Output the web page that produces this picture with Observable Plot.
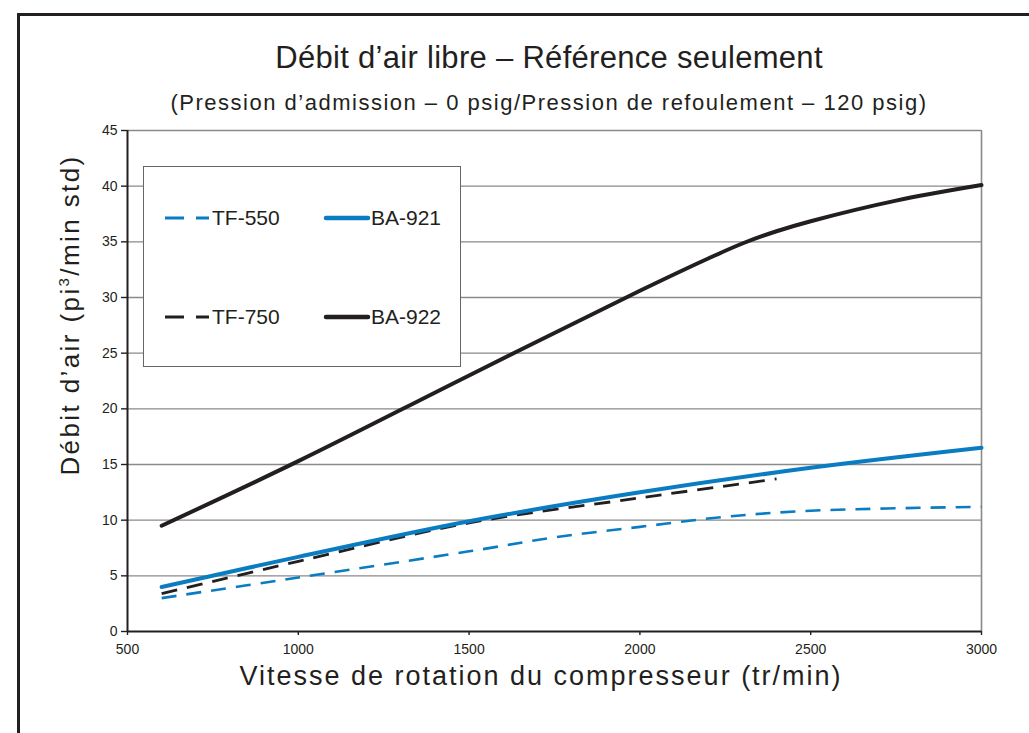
<!DOCTYPE html>
<html>
<head>
<meta charset="utf-8">
<script src="https://cdn.jsdelivr.net/npm/d3@7"></script>
<script src="https://cdn.jsdelivr.net/npm/@observablehq/plot@0.6"></script>
<style>
  html, body { margin: 0; padding: 0; background: #fff; }
  #wrap { position: relative; width: 1029px; height: 733px; overflow: hidden; font-family: "Liberation Sans", Arial, sans-serif; color: #231f20; }
  #frame { position: absolute; left: 17px; top: 13px; width: 1100px; height: 800px; border: 3px solid #231f20; box-sizing: border-box; }
  .t { position: absolute; white-space: nowrap; transform: translateX(-50%); }
  #title { left: 549px; top: 40px; font-size: 31px; letter-spacing: 0.3px; }
  #subtitle { left: 549px; top: 90px; font-size: 22px; letter-spacing: 1.5px; }
  #xlabel { left: 541px; top: 661px; font-size: 27px; letter-spacing: 2px; }
  #ylabel { position: absolute; left: 70px; top: 315px; font-size: 26px; letter-spacing: 2.4px; white-space: nowrap; transform: translate(-50%, -50%) rotate(-90deg); }
  #chart { position: absolute; left: 0; top: 0; }
  #legend { position: absolute; left: 143px; top: 166px; width: 318px; height: 201px; border: 1.5px solid #666; background: #fff; box-sizing: border-box; }
  .li { position: absolute; font-size: 21px; line-height: 22px; white-space: nowrap; }
  .li svg { position: absolute; }
</style>
</head>
<body>
<div id="wrap">
  <div id="frame"></div>
  <div id="chart"></div>
  <div id="title" class="t">Débit d’air libre – Référence seulement</div>
  <div id="subtitle" class="t">(Pression d’admission – 0 psig/Pression de refoulement – 120 psig)</div>
  <div id="xlabel" class="t">Vitesse de rotation du compresseur (tr/min)</div>
  <div id="ylabel">Débit d’air (pi<sup style="font-size:15px;vertical-align:10px;line-height:0">3</sup>/min std)</div>
  <div id="legend"></div>
</div>
<script>
// ---- Data ----
const tf550X = [600, 1000, 1500, 1750, 2000, 2250, 2500, 3000];
const tf550Y = [3.0, 4.85, 7.2, 8.45, 9.4, 10.3, 10.85, 11.2];

const tf750X = [600, 1000, 1500, 2000, 2400];
const tf750Y = [3.4, 6.3, 9.75, 12.0, 13.7];

const ba921X = [600, 1000, 1500, 2000, 2500, 3000];
const ba921Y = [4.0, 6.7, 9.9, 12.5, 14.7, 16.5];

const ba922X = [600, 1000, 1500, 2000, 2200, 2300, 2400, 2500, 2750, 3000];
const ba922Y = [9.5, 15.3, 23.0, 30.6, 33.5, 34.85, 35.95, 36.85, 38.7, 40.1];

const xTicks = [500, 1000, 1500, 2000, 2500, 3000];
const yTicks = [0, 5, 10, 15, 20, 25, 30, 35, 40, 45];

const seriesNames = ["TF-550", "TF-750", "BA-921", "BA-922"];
const seriesColors = ["#0a7cc1", "#231f20", "#0a7cc1", "#231f20"];
const seriesDash = ["15,10", "16,10", null, null];
const seriesWidth = [2.6, 2.8, 4, 4];

// ---- Build tables ----
const toRows = (xs, ys, name) => xs.map((x, i) => ({x, y: ys[i], name}));
const rows = {
  "TF-550": toRows(tf550X, tf550Y, "TF-550"),
  "TF-750": toRows(tf750X, tf750Y, "TF-750"),
  "BA-921": toRows(ba921X, ba921Y, "BA-921"),
  "BA-922": toRows(ba922X, ba922Y, "BA-922")
};

const gridColor = "#8a8a8a";
const dark = "#231f20";

const lineMarks = seriesNames.map((n, i) =>
  Plot.line(rows[n], {
    x: "x", y: "y",
    stroke: seriesColors[i],
    strokeWidth: seriesWidth[i],
    strokeDasharray: seriesDash[i] || undefined,
    curve: "catmull-rom",
    strokeLinecap: seriesDash[i] ? "butt" : "round"
  })
);

const chart = Plot.plot({
  width: 1029,
  height: 733,
  marginTop: 130,
  marginBottom: 102,
  marginLeft: 127,
  marginRight: 48,
  style: { fontFamily: "Liberation Sans, Arial, sans-serif", fontSize: "14px", color: dark, background: "transparent", overflow: "visible" },
  x: { type: "linear", domain: [500, 3000], ticks: xTicks, tickFormat: d => String(d) },
  y: { domain: [0, 45], ticks: yTicks },
  marks: [
    Plot.ruleY(yTicks.filter(v => v > 0), { stroke: gridColor, strokeWidth: 1.4 }),
    Plot.ruleX([3000], { stroke: gridColor, strokeWidth: 1.6 }),
    ...lineMarks,
    Plot.ruleX([500], { stroke: dark, strokeWidth: 2 }),
    Plot.ruleY([0], { stroke: dark, strokeWidth: 2 }),
    Plot.axisY({ ticks: yTicks, tickSize: 6, tickPadding: 4, label: null, stroke: dark, strokeWidth: 1.4, fontSize: 14 }),
    Plot.axisX({ ticks: xTicks, tickSize: 4, tickPadding: 9, label: null, tickFormat: d => String(d), stroke: dark, strokeWidth: 1.4, fontSize: 14 })
  ]
});
chart.querySelectorAll("text").forEach(t => { t.setAttribute("font-size", "14"); t.style.fontSize = "14px"; });
document.getElementById("chart").appendChild(chart);

// ---- Legend ----
const legend = document.getElementById("legend");
const legendPos = [
  {lx: 20, ly: 51, tx: 48},   // TF-550
  {lx: 20, ly: 150, tx: 48},  // TF-750
  {lx: 179, ly: 51, tx: 48},  // BA-921
  {lx: 179, ly: 150, tx: 48}  // BA-922
];
seriesNames.forEach((n, i) => {
  const p = legendPos[i];
  const item = document.createElement("div");
  item.className = "li";
  item.style.left = p.lx + "px";
  item.style.top = (p.ly - 11) + "px";
  const sw = document.createElementNS("http://www.w3.org/2000/svg", "svg");
  sw.setAttribute("width", 50);
  sw.setAttribute("height", 22);
  sw.style.left = "0px";
  sw.style.top = "0px";
  const ln = document.createElementNS("http://www.w3.org/2000/svg", "line");
  ln.setAttribute("x1", seriesDash[i] ? 1 : 3);
  ln.setAttribute("x2", 45);
  ln.setAttribute("y1", 11);
  ln.setAttribute("y2", 11);
  ln.setAttribute("stroke", seriesColors[i]);
  ln.setAttribute("stroke-width", seriesDash[i] ? 3 : 4.5);
  if (seriesDash[i]) ln.setAttribute("stroke-dasharray", "19,12");
  else ln.setAttribute("stroke-linecap", "round");
  sw.appendChild(ln);
  item.appendChild(sw);
  const tx = document.createElement("span");
  tx.textContent = n;
  tx.style.position = "absolute";
  tx.style.left = p.tx + "px";
  tx.style.top = "0px";
  item.appendChild(tx);
  legend.appendChild(item);
});
</script>
</body>
</html>
